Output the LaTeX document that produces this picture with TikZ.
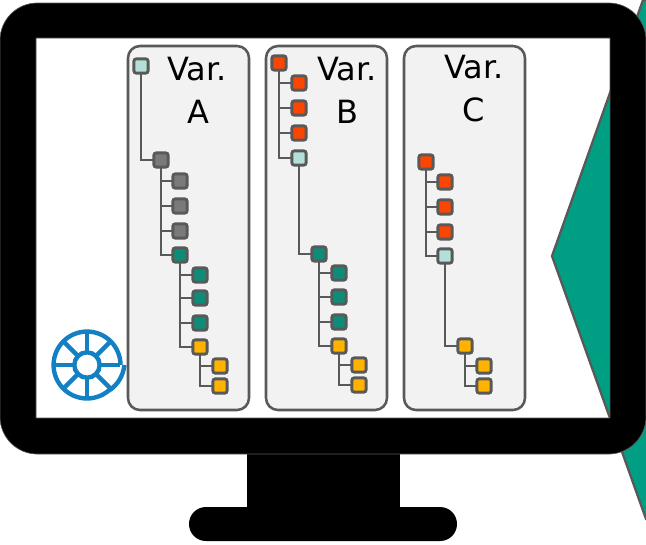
\documentclass[tikz,border=0pt]{standalone}
\usepackage{fontspec}
\usetikzlibrary{calc}
\setmainfont{DejaVu Sans}
\definecolor{edgegray}{HTML}{595959}
\definecolor{panelfill}{HTML}{F2F2F2}
\definecolor{cLight}{HTML}{B3E0D8}
\definecolor{cGrey}{HTML}{7A7A7A}
\definecolor{cGreen}{HTML}{0E8C78}
\definecolor{cRed}{HTML}{FA4600}
\definecolor{cYellow}{HTML}{FFB300}
\definecolor{bigGreen}{HTML}{009E82}
\definecolor{wheelblue}{HTML}{1480C4}
\tikzset{
  x=0.75pt,y=-0.75pt,
  treebox/.style={draw=edgegray,line width=2.2pt,rounded corners=2pt,minimum size=10.8pt,inner sep=0pt,outer sep=0pt},
  lightbox/.style={treebox,fill=cLight},
  greybox/.style={treebox,fill=cGrey},
  greenbox/.style={treebox,fill=cGreen},
  redbox/.style={treebox,fill=cRed},
  yellowbox/.style={treebox,fill=cYellow},
  link/.style={draw=edgegray,line width=2pt},
  panel/.style={draw=edgegray,line width=1.9pt,fill=panelfill,rounded corners=9pt},
  varlabel/.style={font=\fontsize{24}{28}\selectfont,inner sep=0pt,text=black},
  wheel/.style={draw=wheelblue,line width=3.3pt},
}
\begin{document}
\begin{tikzpicture}
\useasboundingbox (0,0) rectangle (646,544);
\fill[white] (0,0) rectangle (646,544);
\begin{scope}
\clip (0,0) rectangle (646,544);
\filldraw[fill=bigGreen,draw=edgegray,line width=1.7pt] (643,0) -- (552,256) -- (646,519) -- (700,519) -- (700,0) -- cycle;
\end{scope}
% monitor stand
\fill[black] (247,450) rectangle (400,512);
\fill[black,rounded corners=12.7pt] (189,507) rectangle (457,541);
% monitor frame
\filldraw[fill=black,draw=edgegray,line width=0.5pt,even odd rule,rounded corners=0pt]
  (36,38) rectangle (610,418)
  [rounded corners=28pt] (0,3) rectangle (646,454);
% panels
\draw[panel] (128,46) rectangle (249,410);
\draw[panel] (266,46) rectangle (387,410);
\draw[panel] (404,46) rectangle (525,410);
% labels
\node[varlabel] (tA1) at (197,69) {Var.};
\node[varlabel] (tA2) at (198,112) {A};
\node[varlabel] (tB1) at (347,69) {Var.};
\node[varlabel] (tB2) at (347,112) {B};
\node[varlabel] (tC1) at (474,67) {Var.};
\node[varlabel] (tC2) at (474,110) {C};
% trees
\node[lightbox] (a0) at (141,66) {};
\node[greybox] (a1) at (161,160) {};
\node[greybox] (a2) at (180,181) {};
\node[greybox] (a3) at (180,206) {};
\node[greybox] (a4) at (180,231) {};
\node[greenbox] (a5) at (180,255) {};
\node[greenbox] (a6) at (200,275) {};
\node[greenbox] (a7) at (200,298) {};
\node[greenbox] (a8) at (200,323) {};
\node[yellowbox] (a9) at (200,347) {};
\node[yellowbox] (a10) at (220,366) {};
\node[yellowbox] (a11) at (220,386) {};
\node[redbox] (b0) at (279,63) {};
\node[redbox] (b1) at (299,83) {};
\node[redbox] (b2) at (299,108) {};
\node[redbox] (b3) at (299,133) {};
\node[lightbox] (b4) at (299,158) {};
\node[greenbox] (b5) at (319,254) {};
\node[greenbox] (b6) at (339,273) {};
\node[greenbox] (b7) at (339,297) {};
\node[greenbox] (b8) at (339,322) {};
\node[yellowbox] (b9) at (339,346) {};
\node[yellowbox] (b10) at (359,365) {};
\node[yellowbox] (b11) at (359,385) {};
\node[redbox] (c0) at (426,162) {};
\node[redbox] (c1) at (445,182) {};
\node[redbox] (c2) at (445,207) {};
\node[redbox] (c3) at (445,232) {};
\node[lightbox] (c4) at (445,256) {};
\node[yellowbox] (c5) at (465,346) {};
\node[yellowbox] (c6) at (484,366) {};
\node[yellowbox] (c7) at (484,386) {};
\foreach \p/\k in {a0/a1,a1/a2,a1/a3,a1/a4,a1/a5,a5/a6,a5/a7,a5/a8,a5/a9,a9/a10,a9/a11,
                   b0/b1,b0/b2,b0/b3,b0/b4,b4/b5,b5/b6,b5/b7,b5/b8,b5/b9,b9/b10,b9/b11,
                   c0/c1,c0/c2,c0/c3,c0/c4,c4/c5,c5/c6,c5/c7}
  \draw[link] (\p.south) |- (\k.west);
% wheel icon
\coordinate (wc) at (87,365);
\draw[wheel] (120.5,365) arc[start angle=0,end angle=315,radius=25.1pt];
\draw[wheel] (124.5,365) .. controls (123,376) and (118,384) .. (110,390);
\draw[wheel] (wc) circle[radius=9.5pt];
\foreach \a in {0,45,...,315}
  \draw[wheel] ($(wc)+(\a:9.5pt)$) -- ($(wc)+(\a:25.1pt)$);
\end{tikzpicture}
\end{document}
